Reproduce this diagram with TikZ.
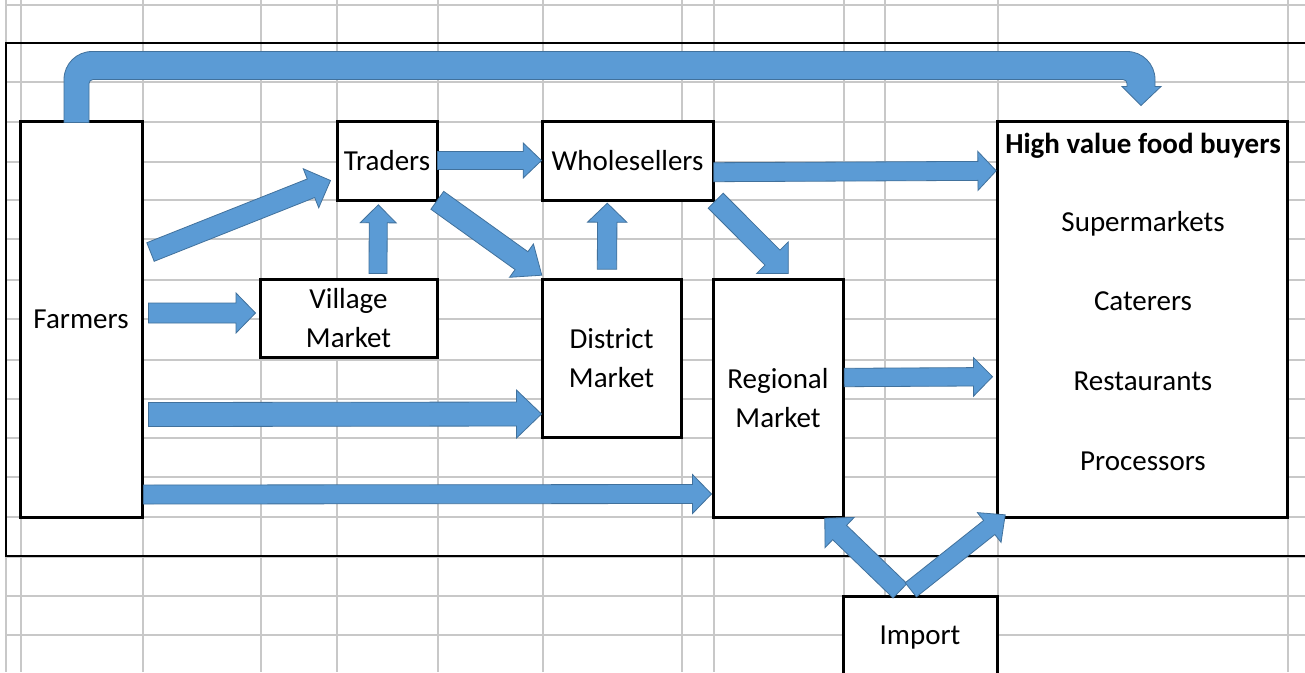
\documentclass[tikz,border=0pt]{standalone}
\usepackage{fontspec}
\setmainfont{Carlito}
\usetikzlibrary{calc}

\definecolor{flowblue}{HTML}{5B9BD5}
\definecolor{flowedge}{HTML}{41719C}
\definecolor{cellgrid}{HTML}{C8C8C8}

\tikzset{
  box/.style={draw, line width=3pt, fill=white, inner sep=0pt, align=center},
  flow/.style={fill=flowblue, draw=flowedge, line width=0.8pt, line join=miter},
  lbl/.style={inner sep=0pt, anchor=base},
  sheetline/.style={cellgrid, line width=1.5pt},
}

% block arrow: start, tip, half shaft, half head, head length
\newcommand{\blockarrow}[5]{%
  \coordinate (ba-s) at (#1);
  \coordinate (ba-t) at (#2);
  \coordinate (ba-h) at ($(ba-t)!#5!(ba-s)$);
  \filldraw[flow] ($(ba-s)!#3!90:(ba-t)$) -- ($(ba-h)!#3!-90:(ba-s)$)
    -- ($(ba-h)!#4!-90:(ba-s)$) -- (ba-t) -- ($(ba-h)!#4!90:(ba-s)$)
    -- ($(ba-h)!#3!90:(ba-s)$) -- ($(ba-s)!#3!-90:(ba-t)$) -- cycle;
}

\begin{document}
\begin{tikzpicture}[x=1pt,y=1pt,yscale=-1,font=\fontsize{29}{38.5}\selectfont]
\useasboundingbox (0,0) rectangle (1305,672);
\fill[white] (0,0) rectangle (1305,672);
\clip (0,0) rectangle (1305,672);

% spreadsheet cells
\foreach \gx in {6,21,143,261,337,438,543,682,714,844,885,998,1288}
  \draw[sheetline] (\gx,0) -- (\gx,672);
\foreach \gy in {5,43,82,122,162,200,239,280,319,360,399,438,477,517,557,596,635}
  \draw[sheetline] (6,\gy) -- (1305,\gy);
\draw[line width=1.2pt] (6,43) rectangle (1320,556);

% boxes
\node[box, minimum width=122pt, minimum height=396pt] (farmers) at (81,319) {Farmers};
\node[box, minimum width=100pt, minimum height=79pt] (traders) at (387,160.5) {Traders};
\node[box, minimum width=171pt, minimum height=79pt] (wholesellers) at (627.5,160.5) {Wholesellers};
\node[box, minimum width=177pt, minimum height=78pt] (village) at (348.5,318) {Village\\Market};
\node[box, minimum width=139pt, minimum height=158pt] (district) at (611.5,358) {District\\Market};
\node[box, minimum width=130pt, minimum height=238pt] (regional) at (778,398) {Regional\\Market};
\node[box, minimum width=290pt, minimum height=396pt] (buyers) at (1142,319) {};
\node[box, minimum width=154pt, minimum height=84pt] (import) at (920,638) {Import};

\node[lbl] (hvfb) at ($(buyers.north)+(1,34)$) {\bfseries High value food buyers};
\foreach \name/\dy in {Supermarkets/112,Caterers/191,Restaurants/271,Processors/351}
  \node[lbl] (\name) at ($(buyers.north)+(1,\dy)$) {\name};

% arrows from farmers
\blockarrow{$(farmers.east)+(7,-67)$}{$(traders.west)+(-5,20)$}{10pt}{21pt}{21pt}
\blockarrow{$(farmers.east)+(5,-6)$}{$(village.west)+(-3,-5)$}{10pt}{20pt}{19.5pt}
\blockarrow{$(farmers.east)+(5,95.5)$}{$(district.west)+(1,56)$}{12pt}{24pt}{25pt}
\blockarrow{$(farmers.east)+(0,175.5)$}{$(regional.west)+(0,96)$}{9.5pt}{19.5pt}{19pt}

% between markets
\blockarrow{$(village.north)+(29.5,-4)$}{$(traders.south)+(-8.7,3.3)$}{9pt}{18pt}{18pt}
\blockarrow{$(traders.east)+(-1,0)$}{$(wholesellers.west)+(1,0)$}{9pt}{17.5pt}{18.3pt}
\blockarrow{$(traders.south east)+(-1.2,-1.2)$}{$(district.north west)+(1.3,-2.3)$}{11pt}{20.5pt}{25pt}
\blockarrow{$(district.north)+(-4.5,-8.3)$}{$(wholesellers.south)+(-20.2,1.7)$}{9.7pt}{19.7pt}{19pt}
\blockarrow{$(wholesellers.south east)+(1.2,-0.8)$}{$(regional.north)+(10.3,-4)$}{10.6pt}{22.3pt}{22.4pt}

% to the buyers
\blockarrow{$(wholesellers.east)+(-0.7,11.7)$}{$(buyers.north west)+(0.7,51.3)$}{9.5pt}{19.5pt}{18.3pt}
\blockarrow{$(regional.east)+(-0.3,-20.5)$}{$(buyers.west)+(-3,57.7)$}{9.2pt}{19.3pt}{19pt}
\blockarrow{$(import.north)+(-20,-3.7)$}{$(regional.south east)+(-19.7,-0.3)$}{10pt}{21pt}{20.6pt}
\blockarrow{$(import.north)+(-9.2,-4.7)$}{$(buyers.south west)+(9.7,-3.7)$}{9pt}{19pt}{20.4pt}

% farmers straight to buyers, over the top
\coordinate (u-s) at ($(farmers.north)+(-4.5,3)$);
\coordinate (u-t) at ($(buyers.north)+(-1,-14)$);
\filldraw[flow] ($(u-s)+(-12.5,0)$) -- ($(u-s)+(-12.5,-43)$)
  arc[start angle=180, end angle=270, radius=28pt] -- ($(u-t)+(-14,-54)$)
  arc[start angle=270, end angle=360, radius=28pt] -- ($(u-t)+(14,-19)$)
  -- ($(u-t)+(20,-19)$) -- (u-t) -- ($(u-t)+(-19,-19)$) -- ($(u-t)+(-14,-19)$)
  -- ($(u-t)+(-14,-22)$) arc[start angle=0, end angle=-90, radius=4pt]
  -- ($(u-s)+(16.5,-43)$) arc[start angle=270, end angle=180, radius=4pt]
  -- ($(u-s)+(12.5,0)$) -- cycle;
\end{tikzpicture}
\end{document}
